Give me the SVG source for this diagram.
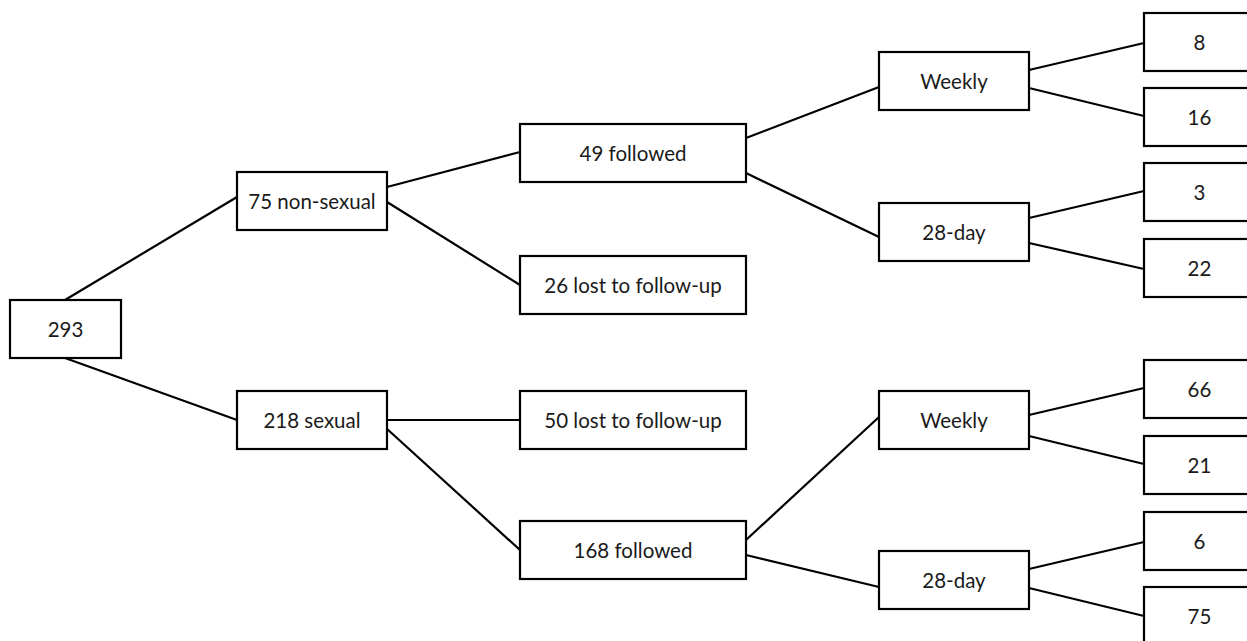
<svg xmlns="http://www.w3.org/2000/svg" width="1247" height="641" viewBox="0 0 1247 641">
<style>
.n rect{fill:#fff;stroke:#000;stroke-width:2.2}
.n text{font-family:Lato,"Liberation Sans",sans-serif;font-size:20.5px;fill:#1a1a1a;text-anchor:middle;dominant-baseline:central}
#connectors line{stroke:#000;stroke-width:2.2}
</style>
<rect width="1247" height="641" fill="#fff"/>
<g id="connectors">
<line x1="65" y1="300" x2="237" y2="197"/>
<line x1="65" y1="358" x2="237" y2="420"/>
<line x1="387" y1="187" x2="520" y2="152"/>
<line x1="387" y1="202" x2="520" y2="285"/>
<line x1="746" y1="138" x2="879" y2="87"/>
<line x1="746" y1="173" x2="879" y2="237"/>
<line x1="1029" y1="70" x2="1144" y2="43"/>
<line x1="1029" y1="88" x2="1144" y2="116"/>
<line x1="1029" y1="218" x2="1144" y2="191"/>
<line x1="1029" y1="243" x2="1144" y2="269"/>
<line x1="387" y1="420" x2="520" y2="420"/>
<line x1="386" y1="428" x2="520" y2="550"/>
<line x1="746" y1="540" x2="879" y2="417"/>
<line x1="746" y1="555" x2="879" y2="587"/>
<line x1="1029" y1="415" x2="1144" y2="388"/>
<line x1="1029" y1="436" x2="1144" y2="464"/>
<line x1="1029" y1="569" x2="1144" y2="542"/>
<line x1="1029" y1="588" x2="1144" y2="616"/>
</g>
<g id="n293" class="n"><rect x="10" y="300" width="111" height="58"/><text x="65.5" y="329">293</text></g>
<g id="n75ns" class="n"><rect x="237" y="172" width="150" height="58"/><text x="312" y="201">75 non-sexual</text></g>
<g id="n218s" class="n"><rect x="237" y="391" width="150" height="58"/><text x="312" y="420">218 sexual</text></g>
<g id="n49f" class="n"><rect x="520" y="124" width="226" height="58"/><text x="633" y="153">49 followed</text></g>
<g id="n26l" class="n"><rect x="520" y="256" width="226" height="58"/><text x="633" y="285">26 lost to follow-up</text></g>
<g id="n50l" class="n"><rect x="520" y="391" width="226" height="58"/><text x="633" y="420">50 lost to follow-up</text></g>
<g id="n168f" class="n"><rect x="520" y="521" width="226" height="58"/><text x="633" y="550">168 followed</text></g>
<g id="nw1" class="n"><rect x="879" y="52" width="150" height="58"/><text x="954" y="81">Weekly</text></g>
<g id="nd1" class="n"><rect x="879" y="203" width="150" height="58"/><text x="954" y="232">28-day</text></g>
<g id="nw2" class="n"><rect x="879" y="391" width="150" height="58"/><text x="954" y="420">Weekly</text></g>
<g id="nd2" class="n"><rect x="879" y="551" width="150" height="58"/><text x="954" y="580">28-day</text></g>
<g id="r8" class="n"><rect x="1144" y="13" width="111" height="58"/><text x="1199.5" y="42">8</text></g>
<g id="r16" class="n"><rect x="1144" y="88" width="111" height="58"/><text x="1199.5" y="117">16</text></g>
<g id="r3" class="n"><rect x="1144" y="163" width="111" height="58"/><text x="1199.5" y="192">3</text></g>
<g id="r22" class="n"><rect x="1144" y="239" width="111" height="58"/><text x="1199.5" y="268">22</text></g>
<g id="r66" class="n"><rect x="1144" y="360" width="111" height="58"/><text x="1199.5" y="389">66</text></g>
<g id="r21" class="n"><rect x="1144" y="436" width="111" height="58"/><text x="1199.5" y="465">21</text></g>
<g id="r6" class="n"><rect x="1144" y="512" width="111" height="58"/><text x="1199.5" y="541">6</text></g>
<g id="r75" class="n"><rect x="1144" y="587" width="111" height="58"/><text x="1199.5" y="616">75</text></g>
</svg>
